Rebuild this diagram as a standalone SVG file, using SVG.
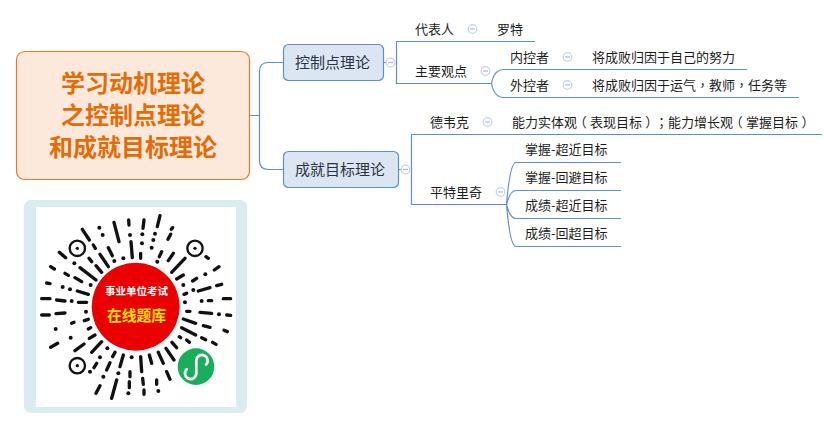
<svg xmlns="http://www.w3.org/2000/svg" width="839" height="429" viewBox="0 0 839 429">
<style>
text{font-family:"Microsoft YaHei","Noto Sans CJK SC","Noto Sans",sans-serif}
.p{font-family:"Noto Sans CJK TC",sans-serif}
.h{font-feature-settings:"halt"}
.conn{fill:none;stroke:#5b8fd0;stroke-width:1.2}
.t{font-size:13px;fill:#1c1c1c}
.topic{fill:#dce6f2;stroke:#5b8fd0;stroke-width:1.2}
.tt{font-size:15px;fill:#2a3346}
.root{fill:#fde9db;stroke:#e6782c;stroke-width:1.2}
.rt{font-size:24px;font-weight:700;fill:#e36c09;text-anchor:middle}
.c{fill:#fff;stroke:#c6d3ee;stroke-width:1.3}
.m{stroke:#a9b9de;stroke-width:1.2;fill:none}
.q{stroke:#111;stroke-width:10;stroke-linecap:round;fill:none}
.d{fill:#111}
.r{fill:#fff;stroke:#111;stroke-width:7}
</style>
<defs>
<g id="fold"><circle class="c" r="4.3"/><path class="m" d="M-2.5,0H2.5"/></g>
</defs>
<rect width="839" height="429" fill="#fff"/>
<g id="connectors">
<path class="conn" d="M249.5,115.5H259.5M283.5,62.5H268.5Q259.5,62.5 259.5,71.5V160.5Q259.5,169.5 268.5,169.5H283.5"/>
<path class="conn" d="M383.5,62.5H386M535,41.5H396.5V83.5H491.5"/>
<path class="conn" d="M747,69.5H504Q494,69.5 491.5,83.5Q494,97.5 504,97.5H799"/>
<path class="conn" d="M398.5,169.5H401M822,134.5H411.5V204.5H506.5"/>
<path class="conn" d="M621,162.5H516Q510,162.5 506.5,204.5M621,190.5H516Q510,190.5 506.5,204.5M621,218.5H516Q510,218.5 506.5,204.5M621,246.5H516Q510,246.5 506.5,204.5"/>
</g>
<g id="root"><rect class="root" x="16.5" y="51.5" width="233" height="128" rx="8"/>
<text class="rt" x="133" y="92">学习动机理论</text><text class="rt" x="133" y="124">之控制点理论</text><text class="rt" x="133" y="156">和成就目标理论</text></g>
<g id="n1"><rect class="topic" x="283.5" y="44.5" width="100" height="36" rx="5"/><text class="tt" x="295" y="68">控制点理论</text><use href="#fold" x="390.5" y="62.5"/></g>
<g id="n2"><rect class="topic" x="283.5" y="151.5" width="115" height="36" rx="5"/><text class="tt" x="295" y="175">成就目标理论</text><use href="#fold" x="405.5" y="169.5"/></g>
<g id="n3"><text class="t" x="415" y="34">代表人</text><use href="#fold" x="472.5" y="29"/></g>
<g id="n4"><text class="t" x="497" y="34">罗特</text></g>
<g id="n5"><text class="t" x="415" y="76">主要观点</text><use href="#fold" x="485.5" y="71"/></g>
<g id="n6"><text class="t" x="510" y="62">内控者</text><use href="#fold" x="567.5" y="57"/></g>
<g id="n7"><text class="t" x="592" y="62">将成败归因于自己的努力</text></g>
<g id="n8"><text class="t" x="510" y="90">外控者</text><use href="#fold" x="567.5" y="85"/></g>
<g id="n9"><text class="t" x="592" y="90">将成败归因于运气<tspan class="p">，</tspan>教师<tspan class="p">，</tspan>任务等</text></g>
<g id="n10"><text class="t" x="430" y="127">德韦克</text><use href="#fold" x="487.5" y="122"/></g>
<g id="n11"><text class="t" x="512" y="127">能力实体观<tspan class="h" dx="3.25">（</tspan><tspan dx="3.25">表现目标</tspan><tspan class="h" dx="3.25">）</tspan><tspan class="p" dx="3.25">；</tspan>能力增长观<tspan class="h" dx="3.25">（</tspan><tspan dx="3.25">掌握目标</tspan><tspan class="h" dx="3.25">）</tspan></text></g>
<g id="n12"><text class="t" x="430" y="197">平特里奇</text><use href="#fold" x="500.5" y="192"/></g>
<g id="n13"><text class="t" x="525" y="154">掌握-超近目标</text></g>
<g id="n14"><text class="t" x="525" y="182">掌握-回避目标</text></g>
<g id="n15"><text class="t" x="525" y="210">成绩-超近目标</text></g>
<g id="n16"><text class="t" x="525" y="238">成绩-回超目标</text></g>
<g id="qr">
<rect x="24" y="200" width="223" height="213" rx="7" fill="#daebf2"/>
<rect x="36" y="207" width="200" height="200" fill="#fff"/>
<g transform="translate(20 195) scale(.3333)">
<path class="q" d="M326,75L327,90M372,75L369,100M420,62L412,95M458,98L454,103M282,82L297,140M187,103L208,135M452,118L444,133M333,140L337,188M220,150L226,160M265,158L277,182M362,175L362,190M425,170L418,185M460,175L445,197M495,190L455,232M118,172L137,188M207,190L215,200M240,178L265,215M180,218L228,255M228,212L245,232M558,185L565,190M597,215L583,225M92,215L103,222M135,235L145,241M165,248L185,260M490,240L470,252M530,250L518,258M80,264L90,266M172,288L205,298M605,268L590,272M570,278L535,288M500,295L492,298M65,311L90,311M110,315L135,318M175,322L200,322M610,311L632,311M565,317L575,317M65,360L88,360M108,356L135,354M500,349L510,349M540,352L575,355M620,360L632,361M155,385L162,382M193,377L205,373M490,372L527,385M550,392L570,397M205,402L212,398M485,398L527,420M612,406L622,410M208,430L225,420M478,425L482,428M500,435L508,442M545,428L557,434M578,442L588,448M92,457L113,445M165,467L192,447M215,472L245,440M456,442L470,458M438,460L462,495M285,472L278,485M310,480L300,515M362,485L365,530M388,480L395,505M415,472L430,505M270,503L260,525M230,505L222,518M330,530L330,545M440,530L450,553M368,550L370,568M410,555L410,568M290,555L275,610M240,572L228,595M328,560L328,578M372,585L372,598"/>
<g class="d"><circle cx="238" cy="98" r="6"/><circle cx="248" cy="120" r="6"/><circle cx="330" cy="120" r="6"/><circle cx="367" cy="118" r="6"/><circle cx="405" cy="116" r="6"/><circle cx="366" cy="145" r="6"/><circle cx="400" cy="135" r="6"/><circle cx="395" cy="158" r="6"/><circle cx="283" cy="198" r="6"/><circle cx="310" cy="190" r="6"/><circle cx="412" cy="200" r="6"/><circle cx="163" cy="205" r="6"/><circle cx="556" cy="238" r="6"/><circle cx="128" cy="276" r="6"/><circle cx="150" cy="283" r="6"/><circle cx="212" cy="270" r="6"/><circle cx="490" cy="270" r="6"/><circle cx="520" cy="285" r="6"/><circle cx="155" cy="318" r="6"/><circle cx="545" cy="318" r="6"/><circle cx="495" cy="322" r="6"/><circle cx="198" cy="350" r="6"/><circle cx="597" cy="358" r="6"/><circle cx="107" cy="402" r="6"/><circle cx="152" cy="428" r="6"/><circle cx="262" cy="460" r="6"/><circle cx="240" cy="487" r="6"/><circle cx="335" cy="487" r="6"/><circle cx="210" cy="530" r="6"/><circle cx="250" cy="545" r="6"/><circle cx="295" cy="535" r="6"/><circle cx="415" cy="588" r="6"/><circle cx="325" cy="595" r="6"/></g>
<circle class="r" cx="172" cy="160" r="23"/><circle class="d" cx="172" cy="160" r="5"/>
<circle class="r" cx="525" cy="160" r="23"/><circle class="d" cx="525" cy="160" r="5"/>
<circle class="r" cx="172" cy="512" r="23"/><circle class="d" cx="172" cy="512" r="5"/>
<circle cx="347" cy="335" r="132" fill="#ea0000"/>
<circle cx="528" cy="515" r="55" fill="#1aad5c"/>
<path d="M500,523A17,17 0 1 0 529,535V497A17,17 0 1 1 558,509" fill="none" stroke="#fff" stroke-width="8" stroke-linecap="round"/>
</g>
<text x="136.500" y="294.500" font-size="10.500" font-weight="700" fill="#fff" text-anchor="middle">事业单位考试</text>
<text x="136.500" y="321" font-size="14.800" font-weight="700" fill="#ffe400" text-anchor="middle">在线题库</text>
</g>
</svg>
